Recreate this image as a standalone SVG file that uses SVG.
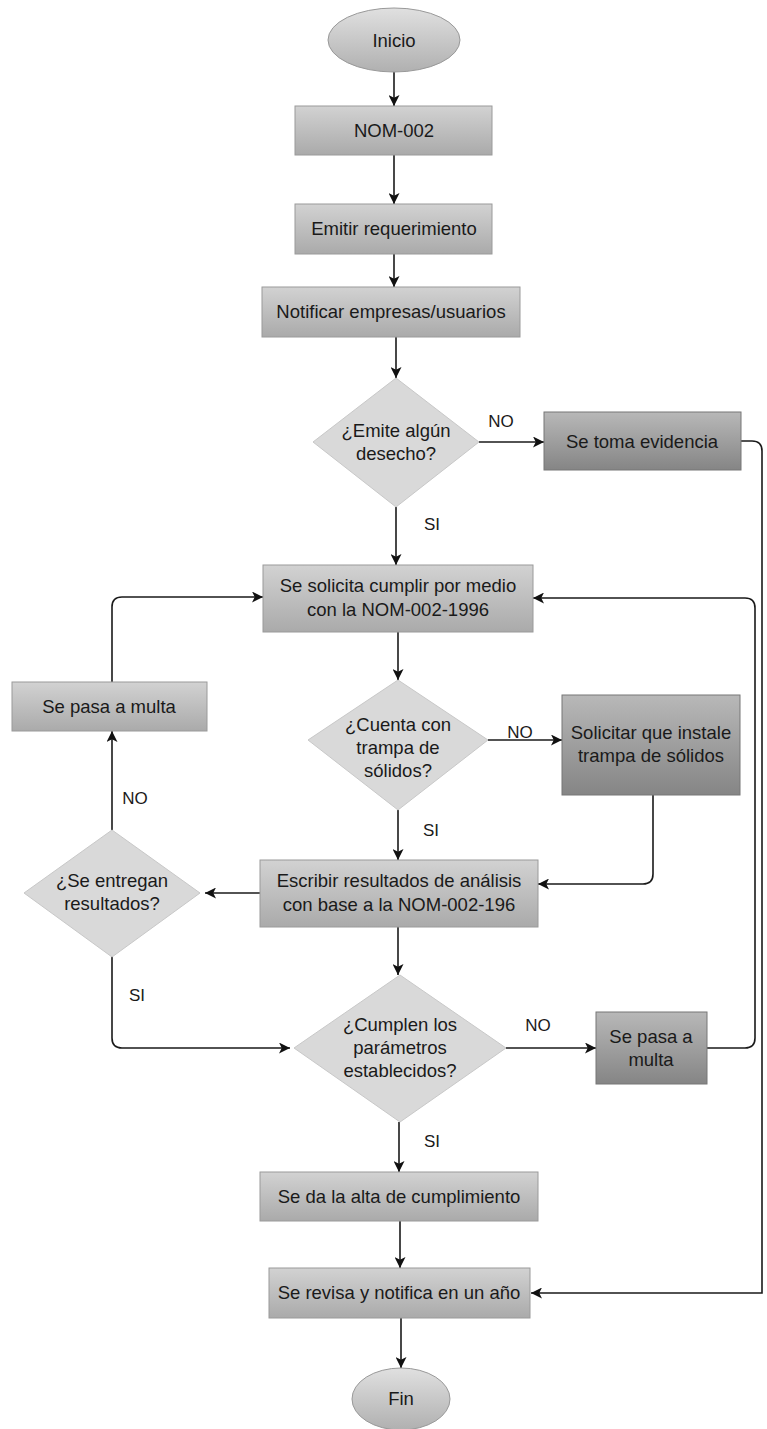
<svg xmlns="http://www.w3.org/2000/svg" width="767" height="1429" viewBox="0 0 767 1429">
<defs>
<linearGradient id="gBox" x1="0" y1="0" x2="0" y2="1">
<stop offset="0" stop-color="#d2d2d2"/><stop offset="1" stop-color="#aaaaaa"/>
</linearGradient>
<linearGradient id="gDark" x1="0" y1="0" x2="0" y2="1">
<stop offset="0" stop-color="#b8b8b8"/><stop offset="1" stop-color="#858585"/>
</linearGradient>
<linearGradient id="gEll" x1="0" y1="0" x2="0" y2="1">
<stop offset="0" stop-color="#e0e0e0"/><stop offset="1" stop-color="#b0b0b0"/>
</linearGradient>
<marker id="arr" viewBox="0 0 10 10" refX="10" refY="5" markerWidth="11" markerHeight="11" markerUnits="userSpaceOnUse" orient="auto">
<path d="M0,0 L10,5 L0,10 L2.5,5 z" fill="#111"/>
</marker>
</defs>
<style>
.box{fill:url(#gBox);stroke:#9a9a9a;stroke-width:1}
.dark{fill:url(#gDark);stroke:#777;stroke-width:1}
.dia{fill:#d9d9d9;stroke:#c8c8c8;stroke-width:1}
.ell{fill:url(#gEll);stroke:#999;stroke-width:1}
text{font-family:"Liberation Sans",Arial,sans-serif;font-size:18.5px;fill:#1a1a1a;text-anchor:middle}
.lbl{font-size:17px}
.c{fill:none;stroke:#1a1a1a;stroke-width:1.6;marker-end:url(#arr)}
</style>
<rect width="767" height="1429" fill="#ffffff"/>

<g id="connectors">
<path class="c" d="M394,72 V106"/>
<path class="c" d="M394,155 V204"/>
<path class="c" d="M394,254 V287"/>
<path class="c" d="M396,337 V378"/>
<path class="c" d="M479,442 H544"/>
<path class="c" d="M396,507 V565"/>
<path class="c" d="M741,441 H752 Q762,441 762,451 V1293 H531"/>
<path class="c" d="M398,632 V680"/>
<path class="c" d="M488,740 H562"/>
<path class="c" d="M398,810 V860"/>
<path class="c" d="M653,795 V874 Q653,884 643,884 H538"/>
<path class="c" d="M260,893 H205"/>
<path class="c" d="M112,830 V731"/>
<path class="c" d="M112,682 V607 Q112,597 122,597 H263"/>
<path class="c" d="M112,955 V1038 Q112,1048 122,1048 H290"/>
<path class="c" d="M398,927 V975"/>
<path class="c" d="M506,1048 H596"/>
<path class="c" d="M707,1048 H745 Q755,1048 755,1038 V608 Q755,598 745,598 H533"/>
<path class="c" d="M399,1122 V1172"/>
<path class="c" d="M400,1221 V1268"/>
<path class="c" d="M401,1318 V1368"/>
<text class="lbl" x="501" y="427">NO</text>
<text class="lbl" x="432" y="530">SI</text>
<text class="lbl" x="520" y="738">NO</text>
<text class="lbl" x="431" y="836">SI</text>
<text class="lbl" x="135" y="804">NO</text>
<text class="lbl" x="137" y="1001">SI</text>
<text class="lbl" x="538" y="1031">NO</text>
<text class="lbl" x="432" y="1147">SI</text>
</g>

<g id="inicio"><ellipse class="ell" cx="394" cy="40" rx="66" ry="32"/><text x="394" y="47">Inicio</text></g>
<g id="nom002"><rect class="box" x="295" y="106" width="197" height="49"/><text x="394" y="137">NOM-002</text></g>
<g id="emitir"><rect class="box" x="295" y="204" width="197" height="50"/><text x="394" y="235">Emitir requerimiento</text></g>
<g id="notificar"><rect class="box" x="262" y="287" width="258" height="50"/><text x="391" y="318">Notificar empresas/usuarios</text></g>
<g id="emite"><polygon class="dia" points="396,378 479,442 396,507 313,442"/><text x="396" y="437">¿Emite algún</text><text x="396" y="460">desecho?</text></g>
<g id="evidencia"><rect class="dark" x="544" y="412" width="197" height="58"/><text x="642" y="448">Se toma evidencia</text></g>
<g id="solicita"><rect class="box" x="263" y="565" width="270" height="67"/><text x="398" y="592">Se solicita cumplir por medio</text><text x="398" y="616">con la NOM-002-1996</text></g>
<g id="multa1"><rect class="box" x="12" y="682" width="195" height="49"/><text x="109" y="713">Se pasa a multa</text></g>
<g id="cuenta"><polygon class="dia" points="398,680 488,740 398,810 308,740"/><text x="398" y="731">¿Cuenta con</text><text x="398" y="754">trampa de</text><text x="398" y="777">sólidos?</text></g>
<g id="trampa"><rect class="dark" x="562" y="695" width="178" height="100"/><text x="651" y="739">Solicitar que instale</text><text x="651" y="762">trampa de sólidos</text></g>
<g id="escribir"><rect class="box" x="260" y="860" width="278" height="67"/><text x="399" y="887">Escribir resultados de análisis</text><text x="399" y="911">con base a la NOM-002-196</text></g>
<g id="entregan"><polygon class="dia" points="112,830 200,893 112,957 24,893"/><text x="112" y="887">¿Se entregan</text><text x="112" y="910">resultados?</text></g>
<g id="cumplen"><polygon class="dia" points="400,975 506,1048 400,1122 294,1048"/><text x="400" y="1031">¿Cumplen los</text><text x="400" y="1054">parámetros</text><text x="400" y="1077">establecidos?</text></g>
<g id="multa2"><rect class="dark" x="596" y="1012" width="111" height="72"/><text x="651" y="1043">Se pasa a</text><text x="651" y="1066">multa</text></g>
<g id="alta"><rect class="box" x="260" y="1172" width="278" height="49"/><text x="399" y="1203">Se da la alta de cumplimiento</text></g>
<g id="revisa"><rect class="box" x="269" y="1268" width="261" height="50"/><text x="399" y="1299">Se revisa y notifica en un año</text></g>
<g id="fin"><ellipse class="ell" cx="401" cy="1399" rx="49" ry="31"/><text x="401" y="1405">Fin</text></g>
</svg>
